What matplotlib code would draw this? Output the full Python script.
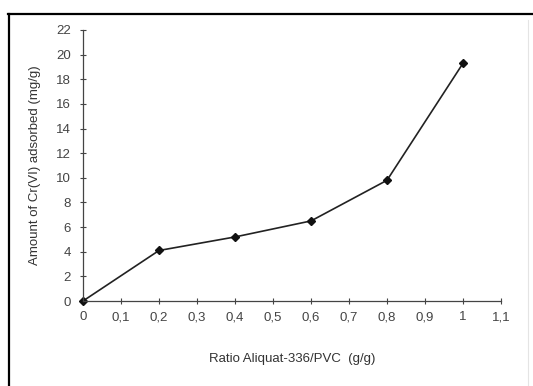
import matplotlib
matplotlib.use('agg')
import matplotlib.pyplot as plt
from matplotlib.lines import Line2D
from matplotlib.ticker import FuncFormatter, MultipleLocator

# Cr(VI) uptake vs. extractant/polymer ratio
ratio = [0, 0.2, 0.4, 0.6, 0.8, 1.0]
adsorbed = [0, 4.1, 5.2, 6.5, 9.8, 19.3]

plt.rcParams.update({
    'font.family': ['Liberation Sans', 'DejaVu Sans'],
    'font.size': 9.5,
})

fig = plt.figure(figsize=(5.33, 3.86), dpi=100)
ax = fig.add_axes([0.1557, 0.2202, 0.7843, 0.7021])

ax.plot(ratio, adsorbed, color='#222222', lw=1.2, marker='D', ms=3.6,
        mfc='#111111', mec='#111111', clip_on=False)

ax.set_xlim(0, 1.1)
ax.set_ylim(0, 22)
ax.xaxis.set_major_locator(MultipleLocator(0.1))
ax.yaxis.set_major_locator(MultipleLocator(2))
ax.xaxis.set_major_formatter(FuncFormatter(lambda v, p: f'{v:.1f}'.rstrip('0').rstrip('.').replace('.', ',')))

for side in ['top', 'right']:
    ax.spines[side].set_visible(False)
for side in ['left', 'bottom']:
    ax.spines[side].set_color('#444444')
    ax.spines[side].set_linewidth(0.9)

ax.tick_params(direction='inout', length=5, width=0.8, color='#444444',
               labelcolor='#444444', pad=5)
ax.tick_params(axis='y', pad=6)

ax.set_xlabel('Ratio Aliquat-336/PVC  (g/g)', color='#333333', labelpad=21)
ax.set_ylabel('Amount of Cr(VI) adsorbed (mg/g)', color='#333333', labelpad=11)

# outer frame of the figure
W, H = 533, 386
fig.add_artist(Line2D([8 / W, 1], [1 - 13.5 / H] * 2, transform=fig.transFigure,
                      color='black', lw=1.6))
fig.add_artist(Line2D([8.5 / W] * 2, [0, 1 - 13.5 / H], transform=fig.transFigure,
                      color='black', lw=1.6))
fig.add_artist(Line2D([528 / W] * 2, [0, 1 - 20 / H], transform=fig.transFigure,
                      color='#e4e4e4', lw=0.8))

fig.savefig('out.png', dpi=100)
